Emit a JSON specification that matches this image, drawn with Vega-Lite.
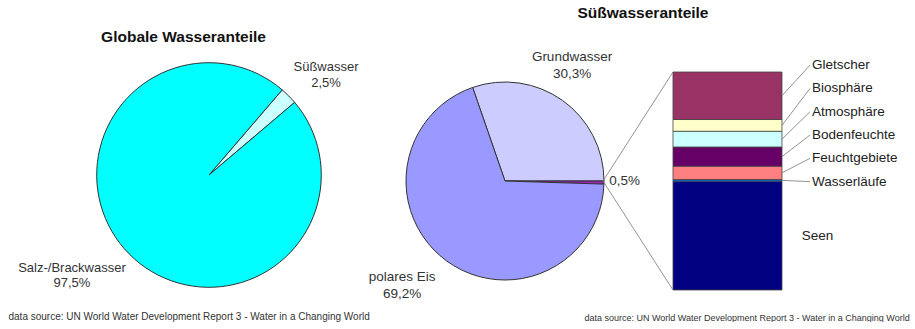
{
  "$schema": "https://vega.github.io/schema/vega-lite/v6.json",
  "padding": {"left": 0, "top": 5, "right": 0, "bottom": 0},
  "autosize": {"type": "pad"},
  "background": "white",
  "bounds": "flush",
  "spacing": 0,
  "resolve": {"scale": {"color": "independent", "theta": "independent"}},
  "datasets": {
    "global": [
      {"gruppe": "Gesamt", "teil": "Süßwasser", "anteil": 2.5, "n": 1},
      {"gruppe": "Gesamt", "teil": "Salz-/Brackwasser", "anteil": 97.5, "n": 2}
    ],
    "suess": [
      {"gruppe": "Süßwasser", "teil": "Grundwasser", "anteil": 30.3, "n": 1},
      {"gruppe": "Süßwasser", "teil": "Sonstige", "anteil": 0.5, "n": 2},
      {"gruppe": "Süßwasser", "teil": "polares Eis", "anteil": 69.2, "n": 3}
    ],
    "rest": [
      {"gruppe": "Sonstige", "teil": "Seen", "anteil": 49.9, "n": 1},
      {"gruppe": "Sonstige", "teil": "Wasserläufe", "anteil": 0.8, "n": 2},
      {"gruppe": "Sonstige", "teil": "Feuchtgebiete", "anteil": 6.1, "n": 3},
      {"gruppe": "Sonstige", "teil": "Bodenfeuchte", "anteil": 8.8, "n": 4},
      {"gruppe": "Sonstige", "teil": "Atmosphäre", "anteil": 7.2, "n": 5},
      {"gruppe": "Sonstige", "teil": "Biosphäre", "anteil": 5.4, "n": 6},
      {"gruppe": "Sonstige", "teil": "Gletscher", "anteil": 21.8, "n": 7}
    ]
  },
  "hconcat": [
    {
      "width": 418,
      "height": 206,
      "title": {"text": "Globale Wasseranteile", "frame": "group", "anchor": "middle", "dx": -25.5, "offset": -7.5, "baseline": "alphabetic", "fontSize": 15.5, "fontWeight": "bold", "color": "#111"},
      "data": {"name": "global"},
      "transform": [
        {"calculate": "[datum.teil, replace(format(datum.anteil, '.1f'), '.', ',') + '%']", "as": "label"}
      ],
      "encoding": {
        "x": {"field": "gruppe", "type": "nominal", "scale": {"type": "point"},
          "axis": {"labels": false, "ticks": false, "domain": false, "grid": false,
            "title": "data source: UN World Water Development Report 3 - Water in a Changing World",
            "titleFontSize": 10, "titleFontWeight": "normal", "titleColor": "#333",
            "titleAnchor": "start", "titleAlign": "left", "titleX": 8, "titleY": 38.6, "titleBaseline": "middle"}},
        "theta": {"field": "anteil", "type": "quantitative", "stack": true, "scale": {"range": [0.7103, 6.9935]}},
        "order": {"field": "n", "type": "quantitative"}
      },
      "layer": [
        {
          "mark": {"type": "arc", "radius": 112.3, "stroke": "#333", "strokeWidth": 1},
          "encoding": {
            "color": {"field": "teil", "type": "nominal", "scale": {"domain": ["Süßwasser", "Salz-/Brackwasser"], "range": ["#CCFFFF", "#00FFFF"]}, "legend": null}
          }
        },
        {
          "mark": {"type": "text", "radius": 150, "dx": 10.6, "dy": -1.8, "fontSize": 13, "lineHeight": 15.6, "align": "center", "baseline": "middle", "color": "#333"},
          "encoding": {
            "detail": {"field": "teil"},
            "text": {"condition": {"test": "datum.teil === 'Süßwasser'", "field": "label"}, "value": ""}
          }
        },
        {
          "mark": {"type": "text", "radius": 150, "dx": -30.6, "dy": -13, "fontSize": 13, "lineHeight": 15.6, "align": "center", "baseline": "middle", "color": "#333"},
          "encoding": {
            "detail": {"field": "teil"},
            "text": {"condition": {"test": "datum.teil === 'Salz-/Brackwasser'", "field": "label"}, "value": ""}
          }
        }
      ]
    },
    {
      "width": 396.5,
      "height": 218,
      "title": {"text": "Süßwasseranteile", "frame": "group", "anchor": "middle", "dx": 26.75, "offset": 17, "baseline": "alphabetic", "fontSize": 15.5, "fontWeight": "bold", "color": "#111"},
      "layer": [
        {
          "data": {"name": "suess"},
          "mark": {"type": "arc", "radius": 99, "stroke": "#333", "strokeWidth": 1},
          "encoding": {
            "x": {"field": "gruppe", "type": "nominal",
              "scale": {"type": "band", "domain": ["Süßwasser", "Sonstige"], "paddingInner": 0.51011, "paddingOuter": 0.14607, "align": 0.5},
              "axis": {"labels": false, "ticks": false, "domain": false, "grid": false,
                "title": "data source: UN World Water Development Report 3 - Water in a Changing World",
                "titleFontSize": 9, "titleFontWeight": "normal", "titleColor": "#333",
                "titleAnchor": "start", "titleAlign": "left", "titleX": 166, "titleY": 27, "titleBaseline": "middle"}},
            "theta": {"field": "anteil", "type": "quantitative", "stack": true, "scale": {"range": [-0.33301, 5.95018]}},
            "order": {"field": "n", "type": "quantitative"},
            "color": {"field": "teil", "type": "nominal",
              "scale": {"domain": ["Grundwasser", "Sonstige", "polares Eis", "Gletscher", "Biosphäre", "Atmosphäre", "Bodenfeuchte", "Feuchtgebiete", "Wasserläufe", "Seen"],
                "range": ["#CCCCFF", "#A020C0", "#9999FF", "#993366", "#FFFFCC", "#CCFFFF", "#660066", "#FF8080", "#0066CC", "#000080"]},
              "legend": null}
          }
        },
        {
          "data": {"name": "suess"},
          "transform": [
            {"calculate": "[datum.teil, replace(format(datum.anteil, '.1f'), '.', ',') + '%']", "as": "label"},
            {"calculate": "replace(format(datum.anteil, '.1f'), '.', ',') + '%'", "as": "wert"}
          ],
          "encoding": {
            "x": {"field": "gruppe", "type": "nominal"},
            "theta": {"field": "anteil", "type": "quantitative", "stack": true},
            "order": {"field": "n", "type": "quantitative"},
            "detail": {"field": "teil"}
          },
          "layer": [
            {
              "mark": {"type": "text", "radius": 130, "dx": -8.4, "dy": -18, "fontSize": 13.5, "lineHeight": 17, "align": "center", "baseline": "middle", "color": "#333"},
              "encoding": {"text": {"condition": {"test": "datum.teil === 'Grundwasser'", "field": "label"}, "value": ""}}
            },
            {
              "mark": {"type": "text", "radius": 104, "dx": 0.3, "dy": -1.6, "fontSize": 13.5, "align": "left", "baseline": "middle", "color": "#333"},
              "encoding": {"text": {"condition": {"test": "datum.teil === 'Sonstige'", "field": "wert"}, "value": ""}}
            },
            {
              "mark": {"type": "text", "radius": 130, "dx": -25.9, "dy": -8.5, "fontSize": 13.5, "lineHeight": 17, "align": "center", "baseline": "middle", "color": "#333"},
              "encoding": {"text": {"condition": {"test": "datum.teil === 'polares Eis'", "field": "label"}, "value": ""}}
            }
          ]
        },
        {
          "data": {"name": "rest"},
          "mark": {"type": "bar", "stroke": "#444", "strokeWidth": 0.8},
          "encoding": {
            "x": {"field": "gruppe", "type": "nominal"},
            "y": {"field": "anteil", "type": "quantitative", "stack": "zero", "scale": {"domain": [0, 100], "nice": false}, "axis": null},
            "order": {"field": "n", "type": "quantitative"},
            "color": {"field": "teil", "type": "nominal", "legend": null}
          }
        },
        {
          "data": {"values": [{}]},
          "mark": {"type": "rule", "color": "#777", "strokeWidth": 0.8},
          "encoding": {
            "x": {"datum": "Süßwasser", "type": "nominal", "bandPosition": 1.3991},
            "x2": {"datum": "Sonstige", "bandPosition": 0},
            "y": {"datum": 50, "type": "quantitative"},
            "y2": {"datum": 100}
          }
        },
        {
          "data": {"values": [{}]},
          "mark": {"type": "rule", "color": "#777", "strokeWidth": 0.8},
          "encoding": {
            "x": {"datum": "Süßwasser", "type": "nominal", "bandPosition": 1.3991},
            "x2": {"datum": "Sonstige", "bandPosition": 0},
            "y": {"datum": 50, "type": "quantitative"},
            "y2": {"datum": 0}
          }
        },
        {
          "data": {"name": "rest"},
          "transform": [
            {"stack": "anteil", "groupby": [], "sort": [{"field": "n", "order": "ascending"}], "as": ["a0", "a1"]},
            {"calculate": "(datum.a0 + datum.a1) / 2", "as": "mitte"}
          ],
          "layer": [
            {
              "transform": [
                {"filter": "datum.teil !== 'Seen'"},
                {"window": [{"op": "row_number", "as": "k"}], "sort": [{"field": "n", "order": "ascending"}]},
                {"calculate": "49.7 + 10.69 * (datum.k - 1)", "as": "platz"}
              ],
              "layer": [
                {
                  "mark": {"type": "rule", "color": "#777", "strokeWidth": 0.8},
                  "encoding": {
                    "x": {"datum": "Sonstige", "type": "nominal", "bandPosition": 1},
                    "x2": {"datum": "Sonstige", "bandPosition": 1.257},
                    "y": {"field": "mitte", "type": "quantitative"},
                    "y2": {"field": "platz"}
                  }
                },
                {
                  "mark": {"type": "text", "align": "left", "baseline": "middle", "fontSize": 13.5, "color": "#222"},
                  "encoding": {
                    "x": {"datum": "Sonstige", "type": "nominal", "bandPosition": 1.275},
                    "y": {"field": "platz", "type": "quantitative"},
                    "text": {"field": "teil"}
                  }
                }
              ]
            },
            {
              "transform": [{"filter": "datum.teil === 'Seen'"}],
              "mark": {"type": "text", "align": "left", "baseline": "middle", "fontSize": 13.5, "color": "#222"},
              "encoding": {
                "x": {"datum": "Sonstige", "type": "nominal", "bandPosition": 1.181},
                "y": {"field": "mitte", "type": "quantitative"},
                "text": {"field": "teil"}
              }
            }
          ]
        }
      ]
    }
  ],
  "config": {
    "font": "Liberation Sans",
    "view": {"stroke": null},
    "title": {"font": "Liberation Sans"},
    "axis": {"titleFont": "Liberation Sans"},
    "text": {"font": "Liberation Sans"}
  }
}
